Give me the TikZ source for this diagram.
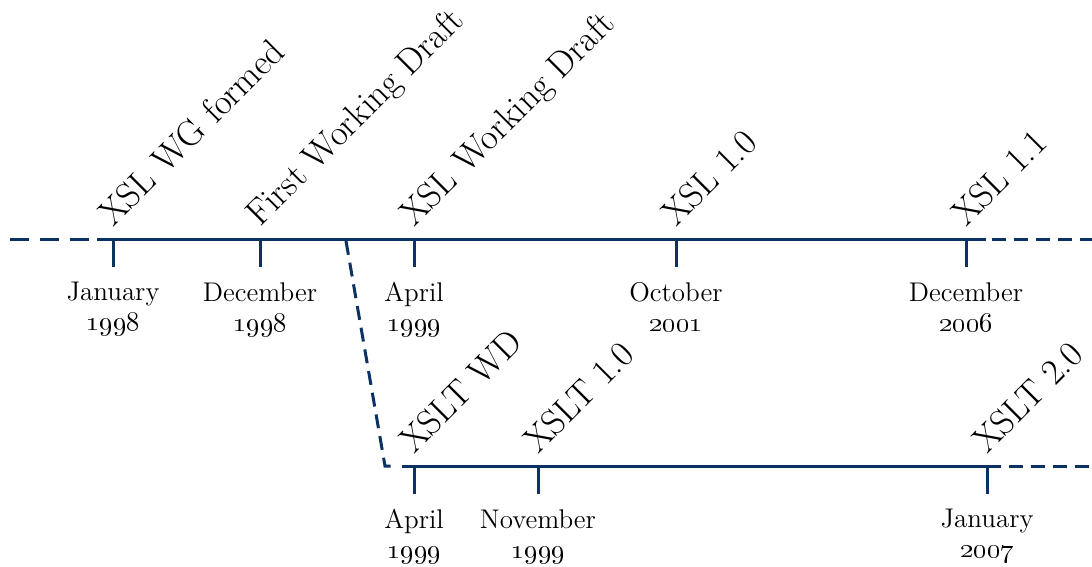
\RequirePackage{fix-cm}
\documentclass[tikz,border=0pt]{standalone}
\usetikzlibrary{positioning}
\usetikzlibrary{calc}
\definecolor{xslblue}{RGB}{12,50,100}

\tikzset{
  axis line/.style={xslblue, line width=1.5pt},
  axis dash left/.style={xslblue, line width=1.5pt, dash pattern=on 9.5pt off 5.5pt},
  axis dash right/.style={xslblue, line width=1.5pt, dash pattern=on 7pt off 4pt},
  tick mark/.style={xslblue, line width=1.5pt},
  event label/.style={rotate=45, anchor=base west, inner sep=0pt, font=\fontsize{18}{21}\selectfont},
  date label/.style={align=center, inner sep=0pt, font=\fontsize{13.5}{15}\selectfont},
}

\begin{document}
\begin{tikzpicture}[x=0.5pt,y=-0.5pt]
        \useasboundingbox (0,0) rectangle (1092,567);

        % the two time axes
        \coordinate (top start) at (10,239);
        \coordinate (top solid) at (97,239);
        \coordinate (top end) at (986,239);
        \coordinate (top dash) at (992,239);
        \coordinate (top right) at (1092,239);
        \coordinate (branch) at (346,241);
        \coordinate (bottom corner) at (385,466);
        \coordinate (bottom gap) at (393,466);
        \coordinate (bottom solid) at (402,466);
        \coordinate (bottom end) at (987,466);
        \coordinate (bottom right) at (1092,466);

        \draw[axis dash left] (top start) -- (top solid);
        \draw[axis line] (top solid) -- (top end);
        \draw[axis dash right] (top dash) -- (top right);
        \draw[axis dash right] (branch) -- (bottom corner) -- (bottom gap);
        \draw[axis line] (bottom solid) -- (bottom end);
        \draw[axis dash right] (bottom end) -- (bottom right);

        % XSL
        \coordinate (wg) at (113,239);
        \coordinate (fwd) at (260,239);
        \coordinate (xslwd) at (414,239);
        \coordinate (xsl10) at (676,239);
        \coordinate (xsl11) at (966,239);

        \draw[tick mark] (wg) -- ++(0,28);
        \draw[tick mark] (fwd) -- ++(0,28);
        \draw[tick mark] (xslwd) -- ++(0,28);
        \draw[tick mark] (xsl10) -- ++(0,28);
        \draw[tick mark] (xsl11) -- ++(0,28);

        \node[event label] (wg label) at ($(wg)+(0,-11)$) {XSL WG formed};
        \node[event label] (fwd label) at ($(fwd)+(0,-11)$) {First Working Draft};
        \node[event label] (xslwd label) at ($(xslwd)+(0,-11)$) {XSL Working Draft};
        \node[event label] (xsl10 label) at ($(xsl10)+(0,-11)$) {XSL 1.0};
        \node[event label] (xsl11 label) at ($(xsl11)+(0,-11)$) {XSL 1.1};

        \node[date label, below=21.5pt of wg] (wg date) {January\\\oldstylenums{1998}};
        \node[date label, below=21.5pt of fwd] (fwd date) {December\\\oldstylenums{1998}};
        \node[date label, below=21.5pt of xslwd] (xslwd date) {April\\\oldstylenums{1999}};
        \node[date label, below=21.5pt of xsl10] (xsl10 date) {October\\\oldstylenums{2001}};
        \node[date label, below=21.5pt of xsl11] (xsl11 date) {December\\\oldstylenums{2006}};

        % XSLT
        \coordinate (xsltwd) at (414,466);
        \coordinate (xslt10) at (538,466);
        \coordinate (xslt20) at (987,466);

        \draw[tick mark] (xsltwd) -- ++(0,28);
        \draw[tick mark] (xslt10) -- ++(0,28);
        \draw[tick mark] (xslt20) -- ++(0,28);

        \node[event label] (xsltwd label) at ($(xsltwd)+(0,-11)$) {XSLT WD};
        \node[event label] (xslt10 label) at ($(xslt10)+(0,-11)$) {XSLT 1.0};
        \node[event label] (xslt20 label) at ($(xslt20)+(0,-11)$) {XSLT 2.0};

        \node[date label, below=21.5pt of xsltwd] (xsltwd date) {April\\\oldstylenums{1999}};
        \node[date label, below=21.5pt of xslt10] (xslt10 date) {November\\\oldstylenums{1999}};
        \node[date label, below=21.5pt of xslt20] (xslt20 date) {January\\\oldstylenums{2007}};
\end{tikzpicture}
\end{document}
